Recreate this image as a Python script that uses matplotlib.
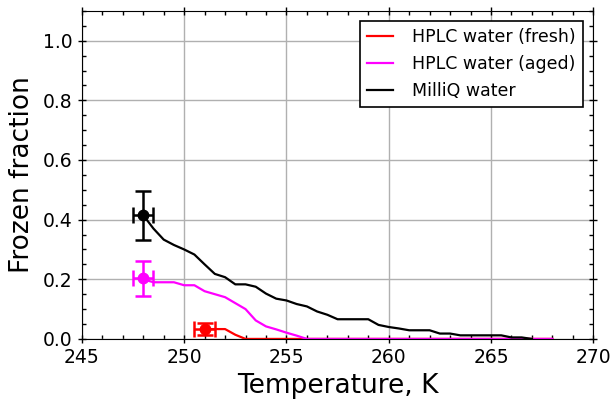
import numpy as np
import matplotlib
matplotlib.use("Agg")
import matplotlib.pyplot as plt
from matplotlib.ticker import MultipleLocator

# HPLC water (fresh)
t_fresh = [251.0, 251.5, 252.0, 252.5, 253.0, 254.0, 256.0, 258.0, 260.0, 262.0, 264.0, 266.0, 268.0]
f_fresh = [0.033, 0.033, 0.033, 0.014, 0.0, 0.0, 0.0, 0.0, 0.0, 0.0, 0.0, 0.0, 0.0]

# HPLC water (aged)
t_aged = [248.0, 248.5, 249.0, 249.5, 250.0, 250.5, 251.0, 251.5, 252.0, 252.5,
          253.0, 253.5, 254.0, 254.5, 255.0, 255.5, 256.0, 258.0, 260.0, 262.0,
          264.0, 266.0, 268.0]
f_aged = [0.20, 0.19, 0.19, 0.19, 0.18, 0.18, 0.16, 0.15, 0.14, 0.12,
          0.10, 0.062, 0.042, 0.032, 0.021, 0.011, 0.0, 0.0, 0.0, 0.0,
          0.0, 0.0, 0.0]

# MilliQ water
t_milliq = [248.0, 248.5, 249.0, 249.5, 250.0, 250.5, 251.0, 251.5, 252.0, 252.5,
            253.0, 253.5, 254.0, 254.5, 255.0, 255.5, 256.0, 256.5, 257.0, 257.5,
            258.0, 258.5, 259.0, 259.5, 260.0, 260.5, 261.0, 261.5, 262.0, 262.5,
            263.0, 263.5, 264.0, 264.5, 265.0, 265.5, 266.0, 266.5, 267.0]
f_milliq = [0.415, 0.37, 0.333, 0.315, 0.30, 0.283, 0.25, 0.218, 0.207, 0.183,
            0.183, 0.175, 0.152, 0.135, 0.129, 0.117, 0.109, 0.092, 0.081, 0.066,
            0.066, 0.066, 0.066, 0.047, 0.040, 0.035, 0.029, 0.029, 0.029, 0.018,
            0.018, 0.012, 0.012, 0.012, 0.012, 0.012, 0.005, 0.005, 0.0]

# first-point error bars (T, frac, T err, frac err)
err_fresh = (251.0, 0.033, 0.5, 0.02)
err_aged = (248.0, 0.203, 0.5, 0.058)
err_milliq = (248.0, 0.415, 0.5, 0.082)

fig = plt.figure(figsize=(6.11, 4.03), dpi=100)
ax = fig.add_axes([0.134, 0.159, 0.837, 0.814])

series = [
    (t_fresh, f_fresh, err_fresh, "red", "HPLC water (fresh)"),
    (t_aged, f_aged, err_aged, "magenta", "HPLC water (aged)"),
    (t_milliq, f_milliq, err_milliq, "black", "MilliQ water"),
]
for t, f, e, c, lab in series:
    ax.plot(t, f, color=c, lw=1.6, label=lab)
    ax.errorbar(e[0], e[1], xerr=e[2], yerr=e[3], fmt="o", color=c,
                ms=7.5, capsize=5.5, elinewidth=1.8, capthick=1.8)

ax.set_xlim(245, 270)
ax.set_ylim(0, 1.1)
ax.xaxis.set_major_locator(MultipleLocator(5))
ax.xaxis.set_minor_locator(MultipleLocator(1))
ax.yaxis.set_major_locator(MultipleLocator(0.2))
ax.yaxis.set_minor_locator(MultipleLocator(0.05))
ax.tick_params(which="major", direction="inout", length=6, width=1,
               top=True, right=True, labelsize=13.5)
ax.tick_params(which="minor", direction="in", length=3, width=1,
               top=True, right=True)
ax.grid(True, which="major", color="#b0b0b0", lw=1)
ax.set_axisbelow(True)

ax.set_xlabel("Temperature, K", fontsize=19)
ax.set_ylabel("Frozen fraction", fontsize=19, labelpad=6)

leg = ax.legend(loc="upper right", fontsize=12.5, fancybox=False, framealpha=1,
                edgecolor="black", handlelength=1.5, handletextpad=1.1,
                borderaxespad=0.6)
leg.get_frame().set_linewidth(1.2)

fig.savefig("out.png", dpi=100)
